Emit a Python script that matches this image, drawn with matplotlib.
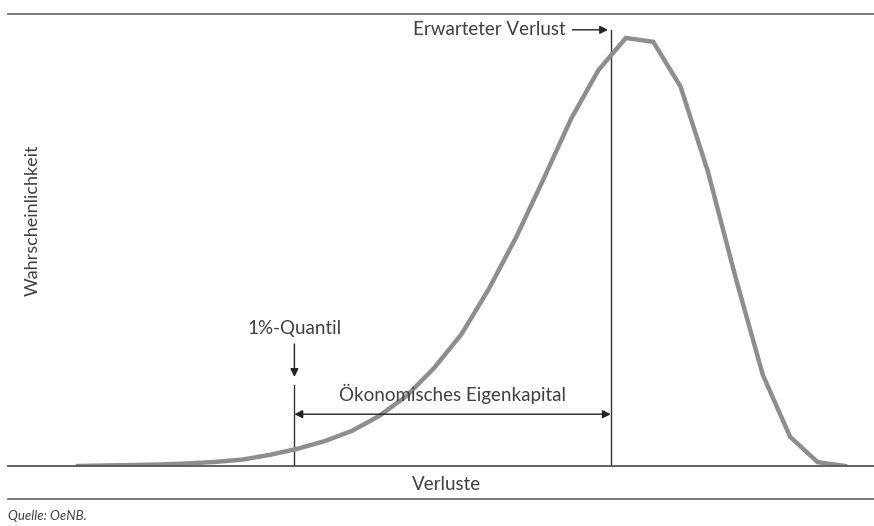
"""Loss distribution sketch: Erwarteter Verlust, 1%-Quantil, ökonomisches Eigenkapital."""
import numpy as np
import matplotlib
matplotlib.use("Agg")
import matplotlib.pyplot as plt
from matplotlib.lines import Line2D

plt.rcParams["font.family"] = ["Lato", "DejaVu Sans"]

# loss buckets and probability (arbitrary units, peak = 100)
loss = list(range(29))
prob = [0, 0.12, 0.23, 0.35, 0.6, 0.95, 1.5, 2.6, 4.0, 5.8, 8.2,
        11.7, 16.4, 22.9, 30.8, 41.4, 53.5, 67.1, 81.1, 92.5, 100,
        99.1, 88.6, 68.7, 44.2, 21.3, 6.8, 0.9, 0]

quantile_x = 7.9      # 1%-Quantil
expected_x = 19.45    # Erwarteter Verlust

W, H = 874, 526
TXT = "#404040"
FS = 13.5
fig = plt.figure(figsize=(W / 100, H / 100), dpi=100)

# axes span pixels x 8..874, y 14..466
ax = fig.add_axes([8 / W, 1 - 466 / H, (874 - 8) / W, (466 - 14) / H])
ax.set_xlim(-2.556, 29.06)
ax.set_ylim(0, 105.6)
ax.axis("off")

ax.plot(loss, prob, color="#8e8e8e", lw=3.2, solid_joinstyle="miter", zorder=3)

line_c = "#333333"
ax.plot([quantile_x, quantile_x], [0, 18.9], color=line_c, lw=1.0)
ax.plot([expected_x, expected_x], [0, 101.9], color=line_c, lw=1.0)

# double-headed arrow for economic capital
ax.annotate("", xy=(quantile_x, 12.1), xytext=(expected_x, 12.1),
            arrowprops=dict(arrowstyle="<|-|>", color="#222222", lw=1.0,
                            shrinkA=0, shrinkB=0, mutation_scale=12))
ax.text((quantile_x + expected_x) / 2, 14.4, "Ökonomisches Eigenkapital",
        ha="center", va="bottom", fontsize=FS, color=TXT)

# 1%-Quantil label + arrow
ax.annotate("", xy=(quantile_x, 20.8), xytext=(quantile_x, 28.5),
            arrowprops=dict(arrowstyle="-|>", color="#222222", lw=1.0,
                            shrinkA=0, shrinkB=0, mutation_scale=12))
ax.text(quantile_x, 30.2, "1%-Quantil", ha="center", va="bottom",
        fontsize=FS, color=TXT)

# Erwarteter Verlust label + arrow
ax.annotate("", xy=(expected_x - 0.1, 101.9), xytext=(expected_x - 1.4, 101.9),
            arrowprops=dict(arrowstyle="-|>", color="#222222", lw=1.0,
                            shrinkA=0, shrinkB=0, mutation_scale=12))
ax.text(expected_x - 1.65, 101.9, "Erwarteter Verlust", ha="right", va="center",
        fontsize=FS, color=TXT)


def hline(y, color, lw):
    fig.add_artist(Line2D([8 / W, 1], [1 - y / H, 1 - y / H], color=color, lw=lw))


hline(14, "#6e6e6e", 1.3)
hline(466, "#555555", 1.3)
hline(499, "#6e6e6e", 1.3)

fig.text(33 / W, 1 - 220 / H, "Wahrscheinlichkeit", rotation=90, ha="center",
         va="center", fontsize=13, color=TXT)
fig.text(446 / W, 1 - 484 / H, "Verluste", ha="center", va="center",
         fontsize=FS, color=TXT)
fig.text(8 / W, 1 - 516 / H, "Quelle: OeNB.", ha="left", va="center",
         fontsize=9.5, color=TXT, style="italic")

fig.savefig("out.png", dpi=100)
